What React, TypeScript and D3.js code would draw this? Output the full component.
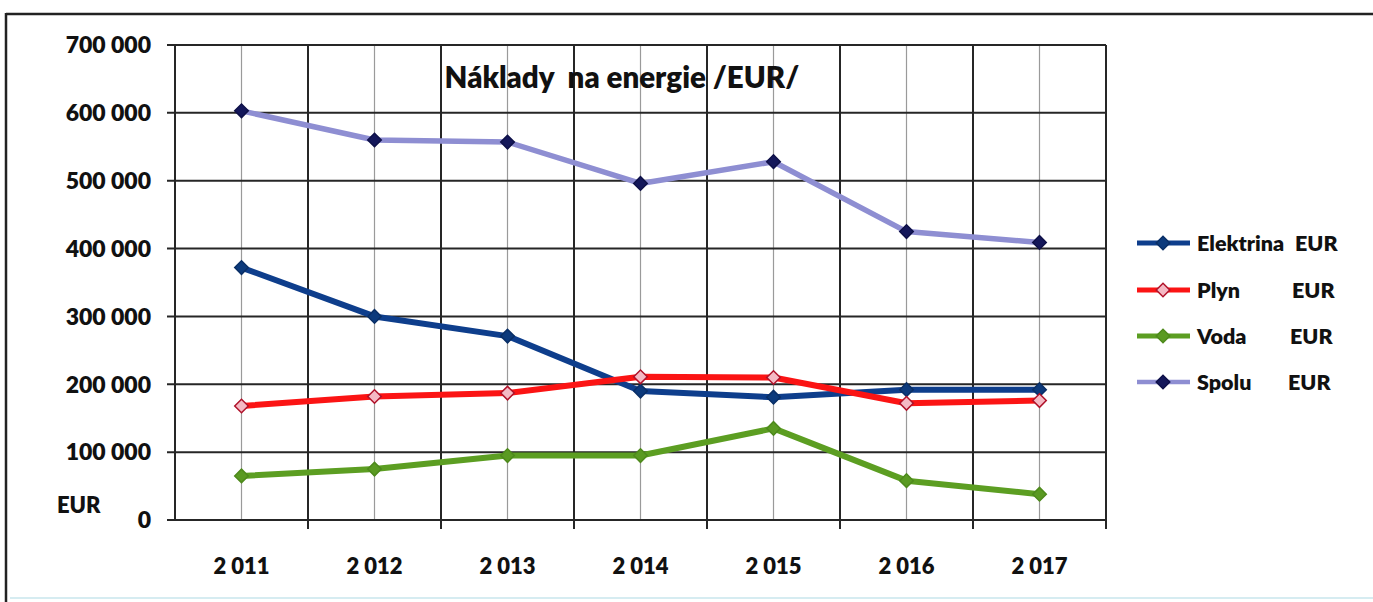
import React from "react";
import * as d3 from "d3";

const years = ["2 011", "2 012", "2 013", "2 014", "2 015", "2 016", "2 017"];
const elektrina = [372000, 300000, 271000, 190000, 181000, 192000, 192000];
const plyn = [168000, 182000, 187000, 211000, 210000, 172000, 176000];
const voda = [65000, 75000, 95000, 95000, 135000, 58000, 38000];
const spolu = [603000, 560000, 557000, 496000, 528000, 425000, 409000];
const yTicks = [0, 100000, 200000, 300000, 400000, 500000, 600000, 700000];
const yTickLabels = ["0", "100 000", "200 000", "300 000", "400 000", "500 000", "600 000", "700 000"];
const legendNames = ["Elektrina", "Plyn", "Voda", "Spolu"];
const title = "Náklady  na energie /EUR/";

const W = 1373;
const H = 602;
const FONT = "Lato, 'Open Sans', sans-serif";

export default function App() {
  const x = d3.scaleBand<string>().domain(years).range([175, 1106]);
  const y = d3.scaleLinear().domain([0, 700000]).range([520, 45]);
  const cx = (i: number) => (x(years[i]) as number) + x.bandwidth() / 2;

  const series = [
    { name: legendNames[0], values: elektrina, line: "#0e3e8c", width: 6, mFill: "#0c3a7c", mStroke: "#0a2f66" },
    { name: legendNames[1], values: plyn, line: "#fb1414", width: 6, mFill: "#f4b9c4", mStroke: "#b0122a" },
    { name: legendNames[2], values: voda, line: "#5c9e22", width: 6, mFill: "#5a9a22", mStroke: "#4e8a1c" },
    { name: legendNames[3], values: spolu, line: "#8e8ed2", width: 5.5, mFill: "#14175a", mStroke: "#0e1048" },
  ];

  const lineGen = d3
    .line<number>()
    .x((_, i) => cx(i))
    .y((v) => y(v));
  const diamond = d3.symbol().type(d3.symbolSquare).size(92)() as string;

  const bounds = [...years.map((yr) => x(yr) as number), 1106];
  const legendY = [243, 290, 336, 382];
  const legendEurX = [1295, 1292, 1290, 1288];

  return (
    <svg
      width={W}
      height={H}
      style={{ position: "absolute", left: 0, top: 0, display: "block", background: "#fff" }}
    >
      <rect x={0} y={0} width={W} height={H} fill="#fff" />
      {/* outer frame */}
      <line x1={6} y1={14} x2={W} y2={14} stroke="#222" strokeWidth={2.5} />
      <line x1={6} y1={13} x2={6} y2={H} stroke="#222" strokeWidth={2.5} />
      <line x1={10} y1={598} x2={W} y2={598} stroke="#d6ecf1" strokeWidth={2} />

      {/* minor vertical gridlines at category centers */}
      {years.map((yr, i) => (
        <line key={"mv" + yr} x1={cx(i)} x2={cx(i)} y1={45} y2={520} stroke="#9a9a9a" strokeWidth={1.2} />
      ))}
      {/* major vertical gridlines (band boundaries) with ticks */}
      {bounds.map((b, i) => (
        <line key={"v" + i} x1={b} x2={b} y1={45} y2={i === 0 ? 521 : 529} stroke="#262626" strokeWidth={2} />
      ))}
      {/* horizontal gridlines with ticks */}
      {yTicks.map((t) => (
        <line key={"h" + t} x1={167} x2={1106} y1={y(t)} y2={y(t)} stroke="#262626" strokeWidth={2} />
      ))}

      {/* y labels */}
      {yTicks.map((t, i) => (
        <text
          key={"yl" + t}
          x={151}
          y={y(t)}
          dy="0.36em"
          textAnchor="end"
          fontFamily={FONT}
          fontWeight={800}
          fontSize={23}
          fill="#111"
        >
          {yTickLabels[i]}
        </text>
      ))}
      <text x={57} y={513} fontFamily={FONT} fontWeight={800} fontSize={22} fill="#111">
        EUR
      </text>

      {/* x labels */}
      {years.map((yr, i) => (
        <text
          key={"xl" + yr}
          x={cx(i)}
          y={574}
          textAnchor="middle"
          fontFamily={FONT}
          fontWeight={800}
          fontSize={22}
          fill="#111"
        >
          {yr}
        </text>
      ))}

      {/* title */}
      <text x={622} y={88} textAnchor="middle" fontFamily={FONT} fontWeight={800} fontSize={29.5} fill="#111" xmlSpace="preserve">
        {title}
      </text>

      {/* series */}
      {series.map((s) => (
        <g key={s.name}>
          <path d={lineGen(s.values) as string} fill="none" stroke={s.line} strokeWidth={s.width} strokeLinejoin="round" />
          {s.values.map((v, i) => (
            <path
              key={i}
              d={diamond}
              transform={`translate(${cx(i)},${y(v)}) rotate(45)`}
              fill={s.mFill}
              stroke={s.mStroke}
              strokeWidth={1.5}
            />
          ))}
        </g>
      ))}

      {/* legend */}
      {series.map((s, i) => (
        <g key={"lg" + s.name}>
          <line x1={1137} x2={1190} y1={legendY[i]} y2={legendY[i]} stroke={s.line} strokeWidth={s.width - 1} />
          <path
            d={diamond}
            transform={`translate(1163,${legendY[i]}) rotate(45)`}
            fill={s.mFill}
            stroke={s.mStroke}
            strokeWidth={1.5}
          />
          <text x={1197} y={legendY[i]} dy="0.36em" fontFamily={FONT} fontWeight={800} fontSize={21.5} fill="#111">
            {s.name}
          </text>
          <text x={legendEurX[i]} y={legendY[i]} dy="0.36em" fontFamily={FONT} fontWeight={800} fontSize={21.5} fill="#111">
            EUR
          </text>
        </g>
      ))}
    </svg>
  );
}
